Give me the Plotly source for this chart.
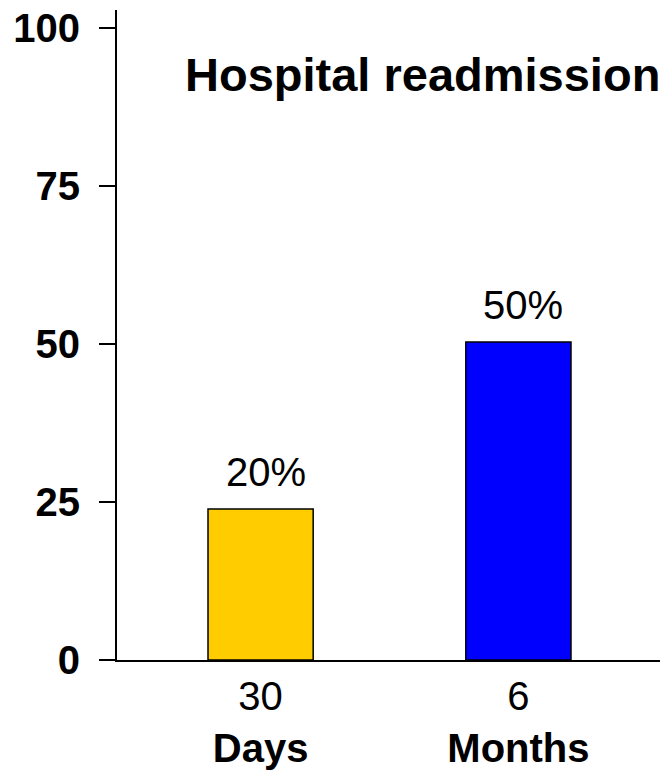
import plotly.graph_objects as go

# Data
period_numbers = ["30", "6"]
period_units = ["Days", "Months"]
readmission_values = [23.9, 50.3]
value_labels = ["20%", "50%"]
bar_colors = ["#FFCC00", "#0000FF"]
y_tick_values = [0, 25, 50, 75, 100]
y_tick_labels = ["0", "25", "50", "75", "100"]
title_text = "Hospital readmission"

categories = [f"{n}<br><b>{u}</b>" for n, u in zip(period_numbers, period_units)]

FONT = "Arial, Liberation Sans, sans-serif"

fig = go.Figure()
fig.add_trace(go.Bar(
    x=categories,
    y=readmission_values,
    marker=dict(color=bar_colors, line=dict(color="black", width=1.5)),
    width=0.408,
    hoverinfo="skip",
))

for cat, val, lab in zip(categories, readmission_values, value_labels):
    fig.add_annotation(
        x=cat, y=val, text=lab, showarrow=False,
        xanchor="center", yanchor="bottom", yshift=13, xshift=5,
        font=dict(family=FONT, size=40, color="black"),
    )

fig.add_annotation(
    xref="paper", yref="paper",
    x=(183 - 117) / 545, y=(660 - 75) / 650,
    xanchor="left", yanchor="middle",
    text=f"<b>{title_text}</b>", showarrow=False,
    font=dict(family=FONT, size=47, color="black"),
)

# The page body adds an 8px offset, so the figure is sized 8px smaller.
fig.update_layout(
    width=660, height=763,
    margin=dict(l=109, r=6, t=2, b=111, autoexpand=False),
    paper_bgcolor="white", plot_bgcolor="white",
    showlegend=False,
    font=dict(family=FONT, color="black"),
    xaxis=dict(
        type="category",
        range=[-0.557, 1.557],
        automargin=False,
        showline=True, linecolor="black", linewidth=2,
        ticks="", showgrid=False, zeroline=False,
        tickfont=dict(family=FONT, size=40, color="black"),
        ticklabelstandoff=0,
    ),
    yaxis=dict(
        range=[0, 102.85],
        automargin=False,
        tickmode="array", tickvals=y_tick_values, ticktext=y_tick_labels,
        showline=True, linecolor="black", linewidth=2,
        ticks="outside", ticklen=16, tickwidth=2, tickcolor="black",
        showgrid=False, zeroline=False,
        tickfont=dict(family=FONT, size=40, color="black", weight="bold"),
        ticklabelstandoff=11,
        ticklabeloverflow="allow",
    ),
)

fig.write_html("out.html")
